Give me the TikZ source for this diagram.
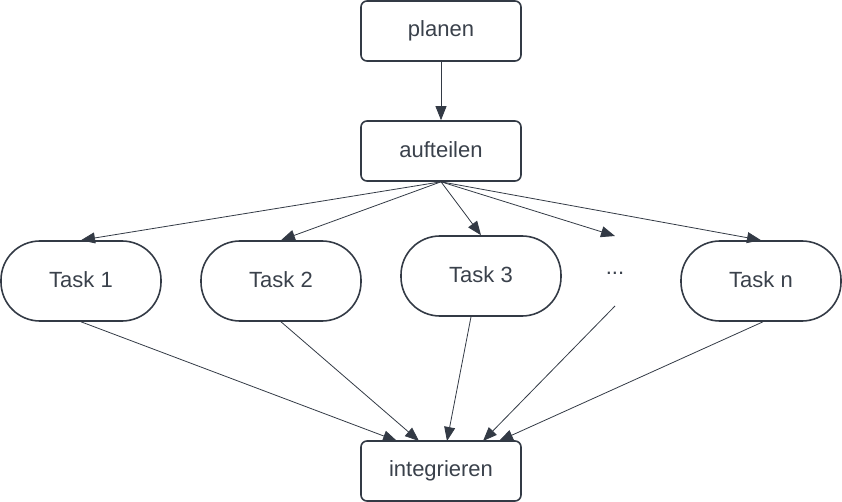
\documentclass[tikz,border=0pt]{standalone}
\usepackage{fontspec}
\setmainfont{Liberation Sans}
\usetikzlibrary{arrows.meta,calc}
\definecolor{ln}{HTML}{333A45}
\definecolor{tx}{HTML}{3A414B}
\newcommand{\lift}[1]{\raisebox{3.5pt}{#1}}
\begin{document}
\begin{tikzpicture}[x=1pt,y=-1pt,
  box/.style={draw=ln,line width=1.6pt,rounded corners=6pt,minimum width=160pt,minimum height=60pt,inner sep=0pt,text=tx,font=\fontsize{22}{26}\selectfont},
  task/.style={draw=ln,line width=1.6pt,rounded corners=39pt,minimum width=160pt,minimum height=80pt,inner sep=0pt,text=tx,font=\fontsize{22}{26}\selectfont},
  plain/.style={inner sep=0pt,text=tx,font=\fontsize{22}{26}\selectfont},
  conn/.style={draw=ln,line width=0.8pt,-{Triangle[length=14pt,width=11pt]}}]
\useasboundingbox (0,0) rectangle (842,502);
\node[box] (plan) at (441,31) {\lift{planen}};
\node[box] (auf) at (441,151) {\lift{aufteilen}};
\node[task] (t1) at (81,281) {\lift{Task 1}};
\node[task] (t2) at (281,281) {\lift{Task 2}};
\node[task] (t3) at (481,276) {\lift{Task 3}};
\node[plain] (dots) at (615,273) {...};
\node[task] (tn) at (761,281) {\lift{Task n}};
\node[box] (int) at (441,471) {\lift{integrieren}};
\coordinate (dtop) at (615,236);
\coordinate (dbot) at (615,306);
\coordinate (i1) at (397,441);
\coordinate (i2) at (419,441);
\coordinate (i3) at (447,441);
\coordinate (i4) at (483,441);
\coordinate (i5) at (499,441);
\draw[conn] (plan.south) -- (auf.north);
\draw[conn] (auf.south) -- (t1.north);
\draw[conn] (auf.south) -- (t2.north);
\draw[conn] (auf.south) -- (t3.north);
\draw[conn] (auf.south) -- (dtop);
\draw[conn] (auf.south) -- (tn.north);
\draw[conn] (t1.south) -- (i1);
\draw[conn] (t2.south) -- (i2);
\draw[conn] ($(t3.south)+(-10,0)$) -- (i3);
\draw[conn] (dbot) -- (i4);
\draw[conn] ($(tn.south)+(2,0)$) -- (i5);
\end{tikzpicture}
\end{document}
